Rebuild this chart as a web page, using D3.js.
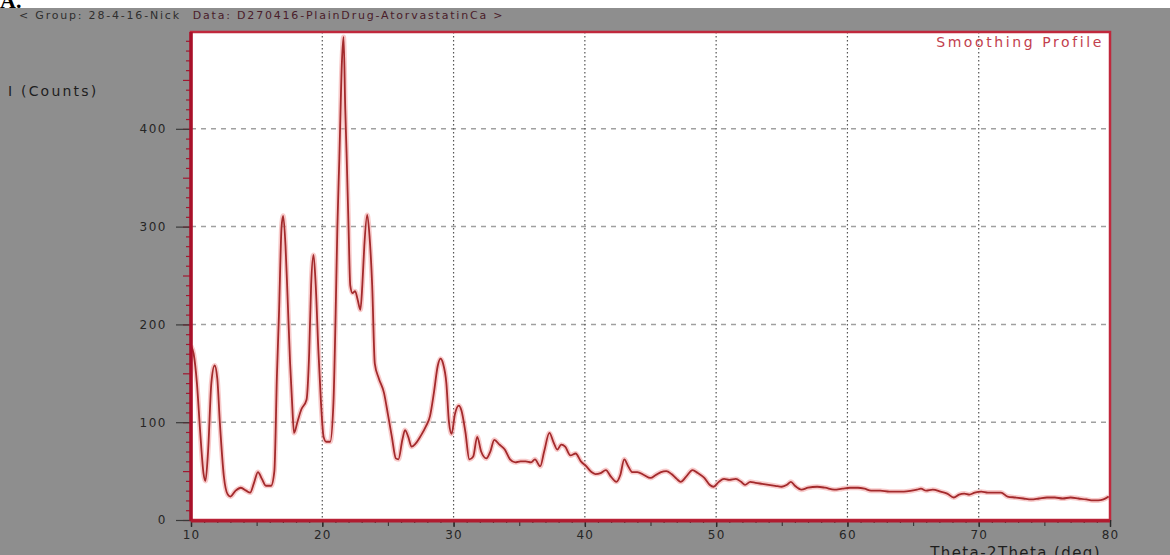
<!DOCTYPE html>
<html>
<head>
<meta charset="utf-8">
<script src="https://cdn.jsdelivr.net/npm/d3@7"></script>
<style>
  body { margin: 0; background: #8e8e8e; }
  svg { display: block; font-family: "DejaVu Sans", Verdana, sans-serif; }
</style>
</head>
<body>
<div id="app"></div>
<script>
// 2-theta positions (deg) and smoothed counts
var twoTheta = [10.0, 10.2, 10.45, 10.7, 10.95, 11.1, 11.3, 11.55, 11.8, 12.0, 12.2, 12.5, 12.8, 13.0, 13.4, 13.8, 14.2, 14.5, 14.8, 15.1, 15.4, 15.7, 16.1, 16.35, 16.55, 16.7, 16.9, 17.02, 17.2, 17.35, 17.55, 17.7, 17.85, 18.1, 18.4, 18.8, 19.0, 19.15, 19.33, 19.5, 19.7, 19.9, 20.1, 20.3, 20.6, 20.85, 21.0, 21.15, 21.3, 21.5, 21.62, 21.75, 21.85, 22.0, 22.13, 22.3, 22.5, 22.7, 22.9, 23.05, 23.2, 23.42, 23.6, 23.8, 24.0, 24.3, 24.7, 25.0, 25.3, 25.6, 25.8, 26.1, 26.3, 26.55, 26.8, 27.1, 27.5, 27.9, 28.2, 28.5, 28.8, 29.0, 29.2, 29.45, 29.65, 29.85, 30.1, 30.4, 30.6, 30.9, 31.2, 31.5, 31.8, 32.1, 32.5, 32.8, 33.1, 33.5, 33.9, 34.3, 34.7, 35.1, 35.5, 35.9, 36.2, 36.6, 36.9, 37.3, 37.6, 37.9, 38.2, 38.5, 38.9, 39.3, 39.7, 40.1, 40.5, 40.8, 41.2, 41.6, 42.0, 42.4, 42.7, 43.0, 43.3, 43.6, 44.0, 44.5, 45.0, 45.4, 45.8, 46.2, 46.6, 47.0, 47.3, 47.7, 48.2, 48.6, 49.1, 49.5, 49.8, 50.2, 50.6, 51.0, 51.5, 51.9, 52.2, 52.6, 53.0, 53.5, 54.0, 54.5, 55.0, 55.4, 55.7, 56.0, 56.5, 57.0, 57.7, 58.3, 59.0, 59.6, 60.2, 60.8, 61.3, 61.8, 62.5, 63.2, 63.8, 64.3, 64.9, 65.3, 65.6, 66.0, 66.5, 67.1, 67.6, 68.1, 68.5, 68.9, 69.3, 69.7, 70.2, 70.7, 71.2, 71.7, 72.2, 72.8, 73.4, 74.0, 74.6, 75.2, 75.8, 76.4, 77.0, 77.6, 78.2, 78.7, 79.1, 79.5, 79.9]
var counts = [178, 170, 140, 90, 48, 40, 70, 140, 158, 145, 99, 45, 26, 24, 30, 33, 30, 28, 38, 49, 42, 35, 35, 50, 150, 210, 300, 311, 280, 230, 160, 120, 89, 100, 113, 123, 170, 240, 271, 240, 174, 120, 85, 80, 80, 120, 200, 300, 370, 470, 494, 420, 375, 300, 240, 232, 234, 225, 215, 240, 280, 312, 290, 240, 160, 145, 130, 108, 85, 63, 62, 82, 92, 85, 75, 78, 86, 96, 106, 130, 158, 165, 160, 140, 100, 88, 108, 117, 112, 90, 62, 65, 85, 70, 63, 70, 82, 77, 72, 62, 59, 60, 60, 59, 62, 55, 70, 89, 80, 72, 77, 75, 66, 68, 60, 55, 49, 47, 48, 51, 44, 39, 46, 62, 55, 49, 49, 46, 43, 46, 49, 50, 47, 42, 39, 44, 51, 48, 43, 36, 34, 39, 42, 41, 42, 39, 36, 39, 38, 37, 36, 35, 34, 36, 39, 35, 31, 33, 34, 33, 31, 32, 33, 33, 32, 30, 30, 29, 29, 29, 30, 31, 32, 30, 31, 29, 27, 23, 26, 27, 26, 28, 29, 28, 28, 28, 24, 23, 22, 21, 22, 23, 23, 22, 23, 22, 21, 20, 20, 21, 24]

var xTicks = [10, 20, 30, 40, 50, 60, 70, 80]
var yTicks = [0, 100, 200, 300, 400]

var groupText = '< Group: 28-4-16-Nick'
var dataText = 'Data: D270416-PlainDrug-AtorvastatinCa >'

var drawChart = function() {
  const w = 1170, h = 555
  const left = 191, right = 1110, top = 32, bottom = 520

  const svg = d3.select('#app').append('svg')
                .attr('width', w)
                .attr('height', h)

  // gray frame and white strip at the very top
  svg.append('rect').attr('width', w).attr('height', h).attr('fill', '#8e8e8e')
  svg.append('rect').attr('width', w).attr('height', 8).attr('fill', '#ffffff')
  svg.append('text')
     .attr('x', 0).attr('y', 8)
     .style('font-family', '"Liberation Serif", serif')
     .style('font-weight', 'bold')
     .style('font-size', '22px')
     .attr('fill', '#000')
     .text('A.')

  const header = svg.append('text')
     .attr('x', 19).attr('y', 19)
     .style('font-size', '11px')
     .style('letter-spacing', '1.8px')
  header.append('tspan').attr('fill', '#2e2e2e').text(groupText)
  header.append('tspan').attr('dx', 12).attr('fill', '#4a1c2a').text(dataText)

  const xScale = d3.scaleLinear().domain([10, 80]).range([left, right])
  const yScale = d3.scaleLinear().domain([0, 499]).range([bottom, top])

  // plot background
  svg.append('rect')
     .attr('x', left).attr('y', top)
     .attr('width', right - left).attr('height', bottom - top)
     .attr('fill', '#ffffff')

  // grid
  svg.append('g').selectAll('line')
     .data(yTicks.slice(1))
     .enter().append('line')
     .attr('x1', left).attr('x2', right)
     .attr('y1', d => yScale(d)).attr('y2', d => yScale(d))
     .attr('stroke', '#a0a0a0')
     .attr('stroke-width', 1.5)
     .attr('stroke-dasharray', '5,5')

  svg.append('g').selectAll('line')
     .data(xTicks.slice(1, -1))
     .enter().append('line')
     .attr('x1', d => xScale(d)).attr('x2', d => xScale(d))
     .attr('y1', top).attr('y2', bottom)
     .attr('stroke', '#555')
     .attr('stroke-width', 1.2)
     .attr('stroke-dasharray', '1.5,2.5')

  // curve: soft pink halo then the trace
  const data = twoTheta.map((t, i) => ({t: t, c: counts[i]}))
  const line = d3.line()
                 .x(d => xScale(d.t))
                 .y(d => yScale(d.c))
                 .curve(d3.curveMonotoneX)

  const clip = svg.append('clipPath').attr('id', 'plotclip')
  clip.append('rect')
      .attr('x', left).attr('y', top)
      .attr('width', right - left).attr('height', bottom - top)

  const plot = svg.append('g').attr('clip-path', 'url(#plotclip)')
  plot.append('path').datum(data)
      .attr('d', line)
      .attr('fill', 'none')
      .attr('stroke', '#f2a0a0')
      .attr('stroke-width', 5)
      .attr('stroke-opacity', 0.55)
  plot.append('path').datum(data)
      .attr('d', line)
      .attr('fill', 'none')
      .attr('stroke', '#a32a2c')
      .attr('stroke-width', 1.8)
      .attr('stroke-linejoin', 'round')

  // plot border
  svg.append('rect')
     .attr('x', left).attr('y', top)
     .attr('width', right - left).attr('height', bottom - top)
     .attr('fill', 'none')
     .attr('stroke', '#c0283c')
     .attr('stroke-width', 2.5)

  // y axis: minor ticks every 10, medium at 50s, major with labels
  const yMinor = d3.range(0, 500, 10)
  svg.append('g')
     .attr('transform', 'translate(' + left + ',0)')
     .call(d3.axisLeft(yScale).tickValues(yMinor).tickSize(0).tickFormat(''))
     .call(g => g.select('.domain').remove())
     .selectAll('.tick').append('line')
     .attr('x1', d => d % 50 === 0 ? -8 : -5).attr('x2', 0)
     .attr('stroke', '#a01830')
     .attr('stroke-width', 1.2)

  const yAxis = svg.append('g')
     .attr('transform', 'translate(' + (left - 1) + ',0)')
     .call(d3.axisLeft(yScale).tickValues(yTicks).tickSize(14).tickPadding(9))
  yAxis.select('.domain').remove()
  yAxis.selectAll('line').attr('stroke', '#3a3a3a').attr('stroke-width', 1.2)
  yAxis.selectAll('text')
       .attr('fill', '#262626')
       .style('font-size', '12px')
       .style('letter-spacing', '1.5px')
       .style('font-family', '"DejaVu Sans", Verdana, sans-serif')

  // x axis: minor ticks every 1 deg, medium at 5s
  svg.append('g')
     .attr('transform', 'translate(0,' + bottom + ')')
     .call(d3.axisBottom(xScale).tickValues(d3.range(10, 81, 1)).tickSize(0).tickFormat(''))
     .call(g => g.select('.domain').remove())
     .selectAll('.tick').append('line')
     .attr('y1', 0).attr('y2', d => d % 5 === 0 ? 6 : 3)
     .attr('stroke', '#3a3a3a')
     .attr('stroke-width', 1.2)

  const xAxis = svg.append('g')
     .attr('transform', 'translate(0,' + bottom + ')')
     .call(d3.axisBottom(xScale).tickValues(xTicks).tickSize(7).tickPadding(3))
  xAxis.select('.domain').remove()
  xAxis.selectAll('line').attr('stroke', '#2a2a2a').attr('stroke-width', 1.4)
  xAxis.selectAll('text')
       .attr('fill', '#262626')
       .style('font-size', '12px')
       .style('letter-spacing', '1.2px')
       .style('font-family', '"DejaVu Sans", Verdana, sans-serif')

  // heavy axis lines on left and bottom
  svg.append('line')
     .attr('x1', left).attr('x2', left).attr('y1', top).attr('y2', bottom + 1)
     .attr('stroke', '#a8102a').attr('stroke-width', 3.5)
  svg.append('line')
     .attr('x1', left).attr('x2', right).attr('y1', bottom + 1).attr('y2', bottom + 1)
     .attr('stroke', '#b01c30').attr('stroke-width', 3)

  // labels
  svg.append('text')
     .attr('x', 8).attr('y', 96)
     .style('font-size', '14px')
     .style('letter-spacing', '2.2px')
     .attr('fill', '#1e1e1e')
     .text('I (Counts)')

  svg.append('text')
     .attr('x', right - 6).attr('y', 47)
     .attr('text-anchor', 'end')
     .style('font-size', '14px')
     .style('letter-spacing', '2.6px')
     .attr('fill', '#c2404e')
     .text('Smoothing Profile')

  svg.append('text')
     .attr('x', 1101).attr('y', 558)
     .attr('text-anchor', 'end')
     .style('font-size', '15px')
     .style('letter-spacing', '1.4px')
     .attr('fill', '#1e1e1e')
     .text('Theta-2Theta (deg)')
}

drawChart()
</script>
</body>
</html>
